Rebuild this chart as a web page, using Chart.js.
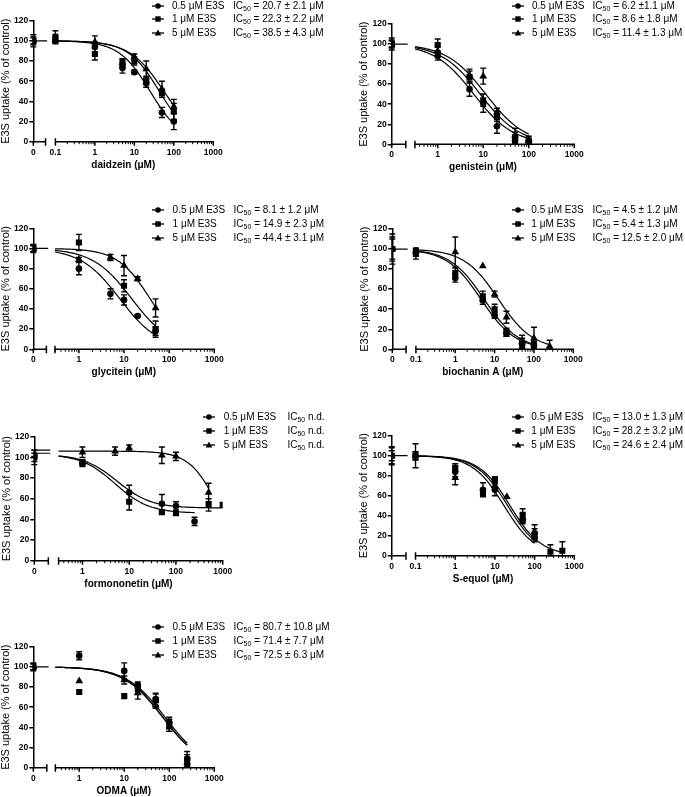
<!DOCTYPE html>
<html>
<head>
<meta charset="utf-8">
<script src="https://cdn.jsdelivr.net/npm/chart.js@4.4.1/dist/chart.umd.min.js"></script>
<style>
  body { margin: 0; background: #fff; width: 685px; height: 797px; position: relative; overflow: hidden;
         font-family: "Liberation Sans", Arial, sans-serif; }
  canvas { position: absolute; }
  .leg { position: absolute; font-size: 10px; color: #000; white-space: nowrap; line-height: 12px; height: 12px;
         width: 180px; will-change: transform; }
  .leg span { position: absolute; top: 0; }
  .leg svg { position: absolute; left: 0; top: 0; }
  .leg sub { font-size: 7px; vertical-align: -2px; line-height: 0; }
</style>
</head>
<body>
<script>
// ---- shared labels ----
const seriesLabels = ['0.5 μM E3S', '1 μM E3S', '5 μM E3S'];
const xTickLabels = ['0', '0.1', '1', '10', '100', '1000'];
const yTickValues = [0, 20, 40, 60, 80, 100, 120];

// ---- daidzein ----
const daidzeinConc = [0, 0.1, 1, 5, 10, 20, 50, 100];
const daidzein05 = [100, 100, 94, 73, 69, 58, 29, 20];
const daidzein05Sd = [6, 3, 5, 5, 2, 4, 5, 8];
const daidzein1 = [100, 104, 87, 78, 80, 61, 48, 30];
const daidzein1Sd = [4, 6, 6, 4, 4, 4, 4, 8];
const daidzein5 = [100, 101, 99, 78, 84, 72, 52, 35];
const daidzein5Sd = [3, 3, 6, 4, 3, 8, 8, 7];
const daidzeinIc50 = [25, 43, 56];
const daidzeinHill = [1.1, 1.1, 1.0];
const daidzeinIcText = ['20.7 ± 2.1 μM', '22.3 ± 2.2 μM', '38.5 ± 4.3 μM'];

// ---- genistein ----
const genisteinConc = [0, 1, 5, 10, 20, 50, 100];
const genistein05 = [100, 88, 55, 41, 18, 4, 2];
const genistein05Sd = [6, 4, 7, 9, 7, 3, 2];
const genistein1 = [100, 99, 67, 44, 28, 7, 3];
const genistein1Sd = [4, 6, 6, 6, 5, 5, 3];
const genistein5 = [100, 93, 69, 68, 32, 9, 5];
const genistein5Sd = [3, 5, 6, 8, 4, 7, 3];
const genisteinIc50 = [6.2, 8.6, 11.4];
const genisteinHill = [1, 1, 1];
const genisteinIcText = ['6.2 ±1.1 μM', '8.6 ± 1.8 μM', '11.4 ± 1.3 μM'];

// ---- glycitein ----
const glyciteinConc = [0, 1, 5, 10, 20, 50];
const glycitein05 = [100, 80, 55, 49, 33, 18];
const glycitein05Sd = [3, 6, 5, 5, 1, 4];
const glycitein1 = [100, 106, null, 63, null, 20];
const glycitein1Sd = [4, 8, null, 6, null, 8];
const glycitein5 = [100, 89, 91, 83, 70, 41];
const glycitein5Sd = [3, 2, 3, 10, 2, 9];
const glyciteinIc50 = [8.1, 14.9, 38];
const glyciteinHill = [1, 1, 1.2];
const glyciteinIcText = ['8.1 ± 1.2 μM', '14.9 ± 2.3 μM', '44.4 ± 3.1 μM'];

// ---- biochanin A ----
const biochaninConc = [0, 0.1, 1, 5, 10, 20, 50, 100, 250];
const biochanin05 = [100, 97, 71, 49, 34, 16, 5, 4, null];
const biochanin05Sd = [15, 3, 4, 4, 3, 3, 4, 3, null];
const biochanin1 = [100, 95, 76, 53, 40, 17, 6, 5, null];
const biochanin1Sd = [10, 5, 5, 5, 5, 4, 5, 3, null];
const biochanin5 = [100, 98, 97, 83, 55, 32, 8, 11, 3];
const biochanin5Sd = [12, 3, 15, 0, 3, 6, 6, 11, 6];
const biochaninIc50 = [4.5, 5.4, 12.5];
const biochaninHill = [1, 1, 1];
const biochaninIcText = ['4.5 ± 1.2 μM', '5.4 ± 1.3 μM', '12.5 ± 2.0 μM'];

// ---- formononetin ----
const formoConc = [0, 1, 5, 10, 50, 100, 250, 500, 1000];
const formo05 = [100, 94, null, 66, 55, 53, 38, null, null];
const formo05Sd = [7, 3, null, 7, 9, 4, 4, null, null];
const formo1 = [100, 95, null, 57, 47, 46, null, 54, 54];
const formo1Sd = [4, 3, null, 8, 2, 2, null, 6, 0];
const formo5 = [104, 105, 106, 109, 102, 101, null, 66, null];
const formo5Sd = [3, 5, 4, 3, 8, 4, null, 9, null];
const formoTop = [103, 103, 106];
const formoBottom = [46, 51, 0];
const formoIc50 = [5, 5.5, 790];
const formoHill = [1.2, 1.2, 1.45];
const formoIcText = ['n.d.', 'n.d.', 'n.d.'];

// ---- S-equol ----
const equolConc = [0, 0.1, 1, 5, 10, 20, 50, 100, 250, 500];
const equol05 = [100, 100, 84, 66, 66, null, 35, 18, null, null];
const equol05Sd = [8, 4, 5, 7, 6, null, 3, 4, null, null];
const equol1 = [100, 100, 88, 63, 76, null, 41, 22, 4, 5];
const equol1Sd = [9, 12, 4, 3, 3, null, 6, 5, 7, 9];
const equol5 = [100, 100, 78, null, 70, 59, 38, 24, null, null];
const equol5Sd = [5, 4, 7, null, 4, 0, 4, 7, null, null];
const equolIc50 = [17, 24, 21];
const equolHill = [1.1, 1.1, 1.1];
const equolIcText = ['13.0 ± 1.3 μM', '28.2 ± 3.2 μM', '24.6 ± 2.4 μM'];

// ---- ODMA ----
const odmaConc = [0, 1, 10, 20, 50, 100, 250];
const odma05 = [100, 111, 96, 82, 68, 45, 9];
const odma05Sd = [4, 4, 8, 3, 6, 5, 7];
const odma1 = [100, 75, 71, 78, 67, 42, 7];
const odma1Sd = [3, 0, 0, 4, 6, 6, 6];
const odma5 = [100, 86, 87, 74, 62, 40, 5];
const odma5Sd = [3, 0, 4, 6, 3, 4, 4];
const odmaIc50 = [80.7, 71.4, 72.5];
const odmaHill = [1, 1, 1];
const odmaIcText = ['80.7 ± 10.8 μM', '71.4 ± 7.7 μM', '72.5 ± 6.3 μM'];

const FONT = '"Liberation Sans", Arial, sans-serif';
const markerStyles = ['circle', 'rect', 'triangle'];
const markerRadius = [3.3, 4.3, 4.5];

// panel layout (pixel geometry of each sub-plot)
const panels = [
  { title: 'daidzein (μM)', conc: daidzeinConc, means: [daidzein05, daidzein1, daidzein5], sds: [daidzein05Sd, daidzein1Sd, daidzein5Sd],
    top: [100, 100, 100], bottom: [0, 0, 0], ic50: daidzeinIc50, hill: daidzeinHill, curveEnd: [100, 100, 100], zeroLine: [100], icText: daidzeinIcText,
    axisX: 33.3, xRight: 213.3, y120: 20.7, y0: 141.7, zeroPos: -1.56, segEnd: -1.25, logStart: -1, leg: [152, 172, 233, 5.5] },
  { title: 'genistein (μM)', conc: genisteinConc, means: [genistein05, genistein1, genistein5], sds: [genistein05Sd, genistein1Sd, genistein5Sd],
    top: [100, 100, 100], bottom: [0, 0, 0], ic50: genisteinIc50, hill: genisteinHill, curveEnd: [100, 100, 100], zeroLine: [100], icText: genisteinIcText,
    axisX: 391.7, xRight: 574.3, y120: 24, y0: 144.3, zeroPos: -1.01, segEnd: -0.70, logStart: -0.5, leg: [511.7, 531.7, 592.3, 5.5] },
  { title: 'glycitein (μM)', conc: glyciteinConc, means: [glycitein05, glycitein1, glycitein5], sds: [glycitein05Sd, glycitein1Sd, glycitein5Sd],
    top: [100, 100, 100], bottom: [0, 0, 0], ic50: glyciteinIc50, hill: glyciteinHill, curveEnd: [50, 50, 50], zeroLine: [100], icText: glyciteinIcText,
    axisX: 33.3, xRight: 214.3, y120: 228.3, y0: 349.3, zeroPos: -1.01, segEnd: -0.72, logStart: -0.53, leg: [151.7, 172.3, 233.3, 210] },
  { title: 'biochanin A (μM)', conc: biochaninConc, means: [biochanin05, biochanin1, biochanin5], sds: [biochanin05Sd, biochanin1Sd, biochanin5Sd],
    top: [100, 100, 100], bottom: [0, 0, 0], ic50: biochaninIc50, hill: biochaninHill, curveEnd: [100, 100, 250], zeroLine: [100], icText: biochaninIcText,
    axisX: 392.3, xRight: 573.3, y120: 229, y0: 349.3, zeroPos: -1.6, segEnd: -1.25, logStart: -1, leg: [511.7, 531, 592.3, 210] },
  { title: 'formononetin (μM)', conc: formoConc, means: [formo05, formo1, formo5], sds: [formo05Sd, formo1Sd, formo5Sd],
    top: formoTop, bottom: formoBottom, ic50: formoIc50, hill: formoHill, curveEnd: [250, 1000, 500], zeroLine: [107, 104], icText: formoIcText, nd: true,
    axisX: 34.3, xRight: 222.7, y120: 436.7, y0: 560.7, zeroPos: -1.03, segEnd: -0.73, logStart: -0.51, leg: [203.3, 224, 287.7, 417.3] },
  { title: 'S-equol (μM)', conc: equolConc, means: [equol05, equol1, equol5], sds: [equol05Sd, equol1Sd, equol5Sd],
    top: [100, 100, 100], bottom: [0, 0, 0], ic50: equolIc50, hill: equolHill, curveEnd: [100, 500, 100], zeroLine: [100], icText: equolIcText,
    axisX: 391.7, xRight: 574.3, y120: 435.7, y0: 555.7, zeroPos: -1.6, segEnd: -1.24, logStart: -1, leg: [511.7, 531, 592.3, 417.3] },
  { title: 'ODMA (μM)', conc: odmaConc, means: [odma05, odma1, odma5], sds: [odma05Sd, odma1Sd, odma5Sd],
    top: [100, 100, 100], bottom: [0, 0, 0], ic50: odmaIc50, hill: odmaHill, curveEnd: [250, 250, 250], zeroLine: [100], icText: odmaIcText,
    axisX: 33.3, xRight: 214.3, y120: 646.7, y0: 767.7, zeroPos: -1.02, segEnd: -0.72, logStart: -0.53, leg: [151.7, 172.3, 233.3, 627.3] }
];

function hill(c, top, bottom, ic50, h) {
  return bottom + (top - bottom) / (1 + Math.pow(c / ic50, h));
}

function toX(p, c) {
  return c === 0 ? p.zeroPos : Math.log10(c);
}

function buildDatasets(p) {
  const ds = [];
  for (let s = 0; s < 3; s++) {
    const pts = [], errs = [];
    p.conc.forEach((c, i) => {
      const m = p.means[s][i];
      if (m == null) return;
      pts.push({ x: toX(p, c), y: m });
      errs.push(p.sds[s][i] || 0);
    });
    ds.push({
      data: pts, errors: errs, pointStyle: markerStyles[s], pointRadius: markerRadius[s],
      backgroundColor: '#000', borderColor: '#000', borderWidth: 0, showLine: false, order: 0
    });

    // fitted curve
    const curve = [];
    const a = p.logStart, b = Math.log10(p.curveEnd[s]);
    for (let k = 0; k <= 80; k++) {
      const lx = a + (b - a) * k / 80;
      curve.push({ x: lx, y: hill(Math.pow(10, lx), p.top[s], p.bottom[s], p.ic50[s], p.hill[s]) });
    }
    ds.push({ data: curve, showLine: true, pointRadius: 0, borderColor: '#000', borderWidth: 1.2, fill: false, order: 1 });
  }
  // plateau line on the zero segment
  p.zeroLine.forEach(v => {
    ds.push({ data: [{ x: p.zeroPos, y: v }, { x: p.segEnd + 0.04, y: v }], showLine: true, pointRadius: 0,
              borderColor: '#000', borderWidth: 1.2, order: 1 });
  });
  return ds;
}

// broken log x-axis + error bars
function axisPlugin(p) {
  return {
    id: 'brokenAxis',
    afterDatasetsDraw(chart) {
      const xs = chart.scales.x, ys = chart.scales.y, ctx = chart.ctx;
      ctx.save();
      ctx.strokeStyle = '#000';
      ctx.lineWidth = 1.4;
      chart.data.datasets.forEach(d => {
        if (!d.errors) return;
        d.data.forEach((pt, i) => {
          const e = d.errors[i];
          if (!e) return;
          const px = xs.getPixelForValue(pt.x);
          const hi = ys.getPixelForValue(pt.y + e), lo = ys.getPixelForValue(Math.max(pt.y - e, 0));
          ctx.beginPath();
          ctx.moveTo(px, hi); ctx.lineTo(px, lo);
          ctx.moveTo(px - 3, hi); ctx.lineTo(px + 3, hi);
          ctx.moveTo(px - 3, lo); ctx.lineTo(px + 3, lo);
          ctx.stroke();
        });
      });
      ctx.restore();
    },
    afterDraw(chart) {
      const xs = chart.scales.x, ys = chart.scales.y, ctx = chart.ctx;
      const y0 = ys.getPixelForValue(0);
      const px = v => xs.getPixelForValue(v);
      ctx.save();
      ctx.strokeStyle = '#000';
      ctx.lineWidth = 1.5;
      ctx.beginPath();
      ctx.moveTo(px(p.zeroPos) - 0.75, y0); ctx.lineTo(px(p.segEnd), y0);
      ctx.moveTo(px(p.logStart), y0); ctx.lineTo(px(3) + 0.75, y0);
      // break marks
      [p.segEnd, p.logStart].forEach(v => { ctx.moveTo(px(v), y0 - 3.5); ctx.lineTo(px(v), y0 + 4); });
      // major ticks
      ctx.moveTo(px(p.zeroPos), y0); ctx.lineTo(px(p.zeroPos), y0 + 4);
      for (let d = Math.ceil(p.logStart - 1e-9); d <= 3; d++) { ctx.moveTo(px(d), y0); ctx.lineTo(px(d), y0 + 4); }
      ctx.stroke();
      // minor ticks
      ctx.lineWidth = 1;
      ctx.beginPath();
      for (let d = Math.floor(p.logStart); d < 3; d++) {
        for (let k = 2; k <= 9; k++) {
          const v = d + Math.log10(k);
          if (v < p.logStart - 1e-9 || v > 3) continue;
          ctx.moveTo(px(v), y0); ctx.lineTo(px(v), y0 + 2.5);
        }
      }
      ctx.stroke();
      ctx.restore();
    }
  };
}

function makePanel(p) {
  const left = Math.floor(p.axisX - 34);
  const top = Math.floor(p.y120 - 8);
  const right = Math.ceil(p.xRight + 16);
  const bottom = Math.ceil(p.y0 + 30);
  const yAxisWidth = p.axisX - left;
  const xAxisHeight = bottom - p.y0;

  const canvas = document.createElement('canvas');
  canvas.width = right - left;
  canvas.height = bottom - top;
  canvas.style.left = left + 'px';
  canvas.style.top = top + 'px';
  document.body.appendChild(canvas);

  const tickPos = xTickLabels.map(t => t === '0' ? p.zeroPos : Math.log10(parseFloat(t)));
  const tickVals = tickPos.filter(v => v === p.zeroPos || v >= p.logStart - 1e-9);
  const labelFor = v => xTickLabels[tickPos.findIndex(w => Math.abs(w - v) < 1e-6)];

  new Chart(canvas, {
    type: 'scatter',
    data: { datasets: buildDatasets(p) },
    options: {
      responsive: false,
      animation: false,
      devicePixelRatio: 1,
      events: [],
      layout: { padding: { left: 0, top: p.y120 - top, right: right - p.xRight, bottom: 0 } },
      plugins: { legend: { display: false }, tooltip: { enabled: false } },
      scales: {
        x: {
          type: 'linear', min: p.zeroPos, max: 3,
          afterBuildTicks: s => { s.ticks = tickVals.map(v => ({ value: v })); },
          afterFit: s => { s.height = xAxisHeight; },
          border: { display: false },
          grid: { display: true, drawOnChartArea: false, drawTicks: true, tickLength: 4, color: 'rgba(0,0,0,0)' },
          ticks: { callback: v => labelFor(v), color: '#000', font: { family: FONT, size: 8.5, weight: 'bold' },
                   padding: 1.5, maxRotation: 0, autoSkip: false },
          title: { display: true, text: p.title, color: '#000', font: { family: FONT, size: 10, weight: 'bold' },
                   padding: { top: 0, bottom: xAxisHeight - 29.3 } }
        },
        y: {
          min: 0, max: 120,
          afterBuildTicks: s => { s.ticks = yTickValues.map(v => ({ value: v })); },
          afterFit: s => { s.width = yAxisWidth; },
          border: { display: true, color: '#000', width: 1.5 },
          grid: { display: true, drawOnChartArea: false, drawTicks: true, tickLength: 4, color: '#000', lineWidth: 1.5 },
          ticks: { color: '#000', font: { family: FONT, size: 8.5, weight: 'bold' }, padding: 1 },
          title: { display: true, text: 'E3S uptake (% of control)', color: '#000', font: { family: FONT, size: 11 },
                   padding: { top: Math.max(0, yAxisWidth - 27.8 - 6.6), bottom: 0 } }
        }
      }
    },
    plugins: [axisPlugin(p)]
  });
}

function markerSvg(s) {
  let shape;
  if (s === 0) shape = '<circle cx="6" cy="6" r="2.8" fill="#000"/>';
  else if (s === 1) shape = '<rect x="3.3" y="3.3" width="5.4" height="5.4" fill="#000"/>';
  else shape = '<polygon points="6,2.6 9.3,8.4 2.7,8.4" fill="#000"/>';
  return '<svg width="12" height="12"><line x1="0" y1="6" x2="12" y2="6" stroke="#000" stroke-width="1.3"/>' + shape + '</svg>';
}

function makeLegend(p) {
  const [mx, tx, ix, y] = p.leg;
  for (let s = 0; s < 3; s++) {
    const row = document.createElement('div');
    row.className = 'leg';
    row.style.left = mx + 'px';
    row.style.top = (y + s * 13.9 - 6) + 'px';
    const ic = p.nd ? 'IC<sub>50</sub> ' + p.icText[s] : 'IC<sub>50</sub> = ' + p.icText[s];
    row.innerHTML = markerSvg(s) +
      '<span style="left:' + (tx - mx) + 'px">' + seriesLabels[s] + '</span>' +
      '<span style="left:' + (ix - mx) + 'px">' + ic + '</span>';
    document.body.appendChild(row);
  }
}

panels.forEach(p => { makePanel(p); makeLegend(p); });
</script>
</body>
</html>
